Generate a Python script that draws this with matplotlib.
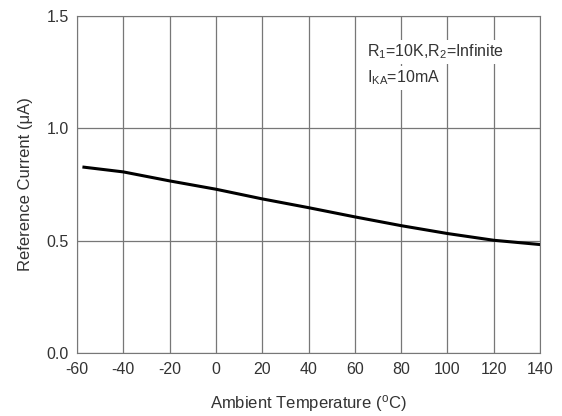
import numpy as np
import matplotlib
matplotlib.use("AGG")
import matplotlib.pyplot as plt

plt.rcParams['font.family'] = ['Liberation Sans', 'DejaVu Sans']
plt.rcParams['mathtext.default'] = 'regular'
plt.rcParams['axes.unicode_minus'] = False

temp = [-57, -40, -20, 0, 20, 40, 60, 80, 100, 120, 140]
current = [0.827, 0.806, 0.766, 0.729, 0.686, 0.647, 0.606, 0.567, 0.532, 0.502, 0.483]
xticks = [-60, -40, -20, 0, 20, 40, 60, 80, 100, 120, 140]
yticks = [0.0, 0.5, 1.0, 1.5]

txt = '#333333'
grid = '#777777'

fig = plt.figure(figsize=(5.62, 4.16), dpi=100)
ax = fig.add_axes([0.137, 0.151, 0.824, 0.811])
ax.plot(temp, current, color='black', lw=2.2)
ax.set_xlim(-60, 140)
ax.set_ylim(0, 1.5)
ax.set_xticks(xticks)
ax.set_yticks(yticks)
ax.set_yticklabels(['%.1f' % v for v in yticks])
ax.grid(True, color=grid, lw=0.9)
for s in ax.spines.values():
    s.set_color(grid)
ax.tick_params(length=0, pad=6, labelsize=11.5, colors=txt)
ax.set_xlabel('Ambient Temperature ($^o$C)', fontsize=12, color=txt, labelpad=12)
ax.set_ylabel('Reference Current (μA)', fontsize=12, color=txt, labelpad=10)
ax.text(0.626, 0.893, '$R_1$=10K,$R_2$=Infinite', transform=ax.transAxes,
        fontsize=11.5, color=txt, va='center',
        bbox=dict(facecolor='white', edgecolor='none', pad=2))
ax.text(0.626, 0.816, '$I_{KA}$=10mA', transform=ax.transAxes,
        fontsize=11.5, color=txt, va='center',
        bbox=dict(facecolor='white', edgecolor='none', pad=2))
plt.savefig('out.png', dpi=100)
